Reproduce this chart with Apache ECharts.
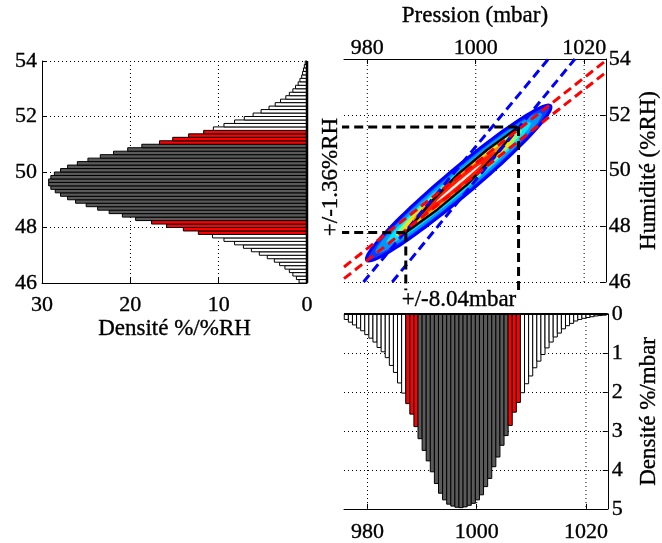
<!DOCTYPE html>
<html><head><meta charset="utf-8">
<script src="https://cdn.jsdelivr.net/npm/echarts@6/dist/echarts.min.js"></script>
<style>html,body{margin:0;padding:0;background:#fff}#c{width:662px;height:543px}</style>
</head><body><div id="c"></div>
<script>
// ---------- data ----------
const humTicks = [46, 48, 50, 52, 54];
const presTicks = [980, 1000, 1020];
const humDensityTicks = [0, 10, 20, 30];
const presDensityTicks = [0, 1, 2, 3, 4, 5];

const humBinStart = 46, humBinWidth = 0.125;
const humDensity = [0.9,1.2,1.6,2.0,2.5,3.1,3.7,4.5,5.4,6.3,7.2,8.2,9.4,10.7,12.3,14.0,15.9,17.6,19.4,20.9,22.4,23.7,25.0,26.2,27.1,27.9,28.5,29.0,29.25,29.25,29.0,28.6,27.9,27.1,26.0,24.8,23.4,21.9,20.3,18.7,16.7,15.2,13.4,11.7,10.6,9.4,8.2,7.1,6.1,5.2,4.3,3.6,3.0,2.4,2.0,1.6,1.3,1.0,0.8,0.6,0.5,0.4,0.3,0.2];
const humRedBands = [[47.75, 48.25], [51.0, 51.5]];
const humCoreBand = [48.25, 51.0];

const presBinStart = 975.75, presBinWidth = 0.75;
const presDensity = [0.14,0.21,0.28,0.36,0.43,0.53,0.62,0.72,0.86,0.97,1.12,1.32,1.50,1.77,2.03,2.30,2.57,2.89,3.20,3.50,3.77,4.05,4.35,4.60,4.77,4.88,4.93,4.96,4.97,4.95,4.91,4.86,4.77,4.64,4.43,4.22,3.92,3.67,3.37,3.12,2.86,2.52,2.27,2.02,1.79,1.59,1.38,1.21,1.04,0.87,0.72,0.59,0.49,0.38,0.30,0.24,0.18,0.14,0.11,0.09,0.07,0.05,0.04,0.03];
const presRedBands = [[987.0, 989.25], [1005.75, 1008.0]];
const presCoreBand = [989.25, 1005.75];

// joint density contours (centre, half-axes in data units, relative level sizes)
const contourCenter = [996.86, 49.55];
const contourMajorHalf = [16.95, 2.77];
const contourMinorHalf = [1.6, -0.38];
const contourMajorScale = [1.00, 0.90, 0.78, 0.68, 0.60, 0.50, 0.40, 0.24];
const contourMinorScale = [1.00, 0.82, 0.66, 0.55, 0.47, 0.40, 0.33, 0.07];

const lensPoints = [[987.1,47.78],[992.91,48.595],[998.37,49.485],[1003.31,50.485],[1007.9,51.56],[1002.09,50.745],[996.63,49.855],[991.69,48.855],[987.1,47.78]];
const blueLineA = [[979.3,46],[1013.4,54]];
const blueLineB = [[984.6,46],[1018.3,54]];
const redLineC = [[975.7,46.54],[1024,53.94]];
const redLineD = [[975.7,46.12],[1024,53.52]];
const boundUpper = [[975.0,51.56],[1007.9,51.56]];
const boundLower = [[975.0,47.78],[987.1,47.78]];
const boundLeft = [[987.1,47.78],[987.1,45.7]];
const boundRight = [[1007.9,51.56],[1007.9,45.7]];

// ---------- styles ----------
const FONT = 'Liberation Serif';
const contourFills = ['#0a3cff','#0096ff','#00e6ff','#7dff82','#ffe100','#ff8c00','#ff1e00','#ffffff'];
const barFill = {white:'#ffffff', core:'#5a5a5a', red:'#ff0000'};

function cls(lo, hi, reds, core){
  const c = (lo+hi)/2;
  if (c > core[0] && c < core[1]) return 'core';
  for (const r of reds) if (c > r[0] && c < r[1]) return 'red';
  return 'white';
}
const humBars = humDensity.map((v,j)=>{const lo=humBinStart+j*humBinWidth, hi=lo+humBinWidth; return [lo,hi,v,cls(lo,hi,humRedBands,humCoreBand)];});
const presBars = presDensity.map((v,k)=>{const lo=presBinStart+k*presBinWidth, hi=lo+presBinWidth; return [lo,hi,v,cls(lo,hi,presRedBands,presCoreBand)];});

const heavy = {textBorderColor:'#000', textBorderWidth:0.35};
const txt = Object.assign({color:'#000', fontFamily:FONT, fontSize:22, formatter:v=>String(v)}, heavy);
const nameTxt = Object.assign({color:'#000', fontFamily:FONT, fontSize:23}, heavy);
const dotted = {color:'#000', width:1, type:[1,3]};
const axLine = {show:true, onZero:false, lineStyle:{color:'#000', width:1}};
const tick = {show:true, inside:true, length:5, lineStyle:{color:'#000'}};

function gridLineSeries(xi, yi, pts){
  return {type:'line', xAxisIndex:xi, yAxisIndex:yi, data:pts, symbol:'none', silent:true, z:1,
          lineStyle:dotted, animation:false};
}
const series = [];
presTicks.forEach(p=>{
  series.push(gridLineSeries(1,1,[[p,46],[p,54]]));
  series.push(gridLineSeries(2,2,[[p,0],[p,5]]));
});

// left histogram (horizontal bars)
series.push({type:'custom', xAxisIndex:0, yAxisIndex:0, data:humBars, z:3,
  encode:{x:2, y:[0,1]},
  renderItem:function(params, api){
    const d = humBars[params.dataIndex];
    const p1 = api.coord([d[2], d[1]]), p2 = api.coord([0, d[0]]);
    return {type:'rect', shape:{x:Math.min(p1[0],p2[0]), y:Math.min(p1[1],p2[1]), width:Math.abs(p2[0]-p1[0]), height:Math.abs(p2[1]-p1[1])},
            style:{fill:barFill[d[3]], stroke:'#000', lineWidth:1}};
  }});
series.push({type:'line', xAxisIndex:0, yAxisIndex:0, data:[[0,46],[0,54]], symbol:'none', z:4, lineStyle:{color:'#000', width:2.5}});

// bottom histogram (vertical bars hanging from 0)
series.push({type:'custom', xAxisIndex:2, yAxisIndex:2, data:presBars, z:3,
  encode:{x:[0,1], y:2},
  renderItem:function(params, api){
    const d = presBars[params.dataIndex];
    const p1 = api.coord([d[0], 0]), p2 = api.coord([d[1], d[2]]);
    return {type:'rect', shape:{x:Math.min(p1[0],p2[0]), y:Math.min(p1[1],p2[1]), width:Math.abs(p2[0]-p1[0]), height:Math.abs(p2[1]-p1[1])},
            style:{fill:barFill[d[3]], stroke:'#000', lineWidth:1}};
  }});
series.push({type:'line', xAxisIndex:2, yAxisIndex:2, data:[[975.7,0],[1024,0]], symbol:'none', z:4, lineStyle:{color:'#000', width:2}});

// contours
series.push({type:'custom', xAxisIndex:1, yAxisIndex:1, z:3,
  data:contourMajorScale.map((s,k)=>[contourCenter[0], contourCenter[1], k]),
  renderItem:function(params, api){
    const k = params.dataIndex, a = contourMajorScale[k], b = contourMinorScale[k];
    const pts = [];
    for (let s=0; s<96; s++){
      const t = s/96*2*Math.PI, c = Math.cos(t), sn = Math.sin(t);
      pts.push(api.coord([contourCenter[0] + a*contourMajorHalf[0]*c + b*contourMinorHalf[0]*sn,
                          contourCenter[1] + a*contourMajorHalf[1]*c + b*contourMinorHalf[1]*sn]));
    }
    return {type:'polygon', shape:{points:pts},
            style:{fill:contourFills[k], stroke: k===0 ? '#0000ff' : contourFills[k], lineWidth: k===0 ? 3 : 0.5}};
  }});
series.push({type:'line', xAxisIndex:1, yAxisIndex:1, data:lensPoints, symbol:'none', z:5, lineStyle:{color:'#000', width:2.5}});
[[blueLineA,'#0000ff'],[blueLineB,'#0000ff'],[redLineC,'#ff0000'],[redLineD,'#ff0000']].forEach(([d,c])=>{
  series.push({type:'line', xAxisIndex:1, yAxisIndex:1, data:d, symbol:'none', z:6, clip:true,
               lineStyle:{color:c, width:3, type:[9,5]}});
});
[boundUpper, boundLower, boundLeft, boundRight].forEach(d=>{
  series.push({type:'line', xAxisIndex:1, yAxisIndex:1, data:d, symbol:'none', z:7, clip:false,
               lineStyle:{color:'#000', width:3, type:[9,5]}});
});

const option = {
  animation:false,
  backgroundColor:'#fff',
  grid:[{left:42, top:61, width:265, height:222},
        {left:344, top:59, width:265, height:223},
        {left:344, top:314, width:265, height:197}],
  xAxis:[
    {gridIndex:0, type:'value', min:0, max:30, interval:10, inverse:true, position:'bottom',
     axisLine:axLine, axisTick:tick, axisLabel:Object.assign({}, txt, {margin:11}),
     splitLine:{show:true, lineStyle:dotted},
     name:'Densité %/%RH', nameLocation:'middle', nameGap:31, nameTextStyle:nameTxt},
    {gridIndex:1, type:'value', min:975.7, max:1024, position:'top',
     axisLine:axLine, axisTick:Object.assign({customValues:presTicks}, tick),
     axisLabel:Object.assign({}, txt, {margin:0, customValues:presTicks}),
     splitLine:{show:false},
     name:'Pression (mbar)', nameLocation:'middle', nameGap:32, nameTextStyle:nameTxt},
    {gridIndex:2, type:'value', min:975.7, max:1024, position:'bottom',
     axisLine:axLine, axisTick:Object.assign({customValues:presTicks}, tick),
     axisLabel:Object.assign({}, txt, {margin:12, customValues:presTicks}),
     splitLine:{show:false}}
  ],
  yAxis:[
    {gridIndex:0, type:'value', min:46, max:54, interval:2, position:'left',
     axisLine:axLine, axisTick:tick, axisLabel:Object.assign({}, txt, {margin:5}),
     splitLine:{show:true, lineStyle:dotted}},
    {gridIndex:1, type:'value', min:46, max:54, interval:2, position:'right',
     axisLine:axLine, axisTick:tick, axisLabel:Object.assign({}, txt, {margin:3}),
     splitLine:{show:true, lineStyle:dotted},
     name:'Humidité (%RH)', nameLocation:'middle', nameRotate:90, nameGap:32, nameTextStyle:nameTxt},
    {gridIndex:2, type:'value', min:0, max:5, interval:1, inverse:true, position:'right',
     axisLine:axLine, axisTick:tick, axisLabel:Object.assign({}, txt, {margin:4}),
     splitLine:{show:true, lineStyle:dotted},
     name:'Densité %/mbar', nameLocation:'middle', nameRotate:90, nameGap:30, nameTextStyle:nameTxt}
  ],
  graphic:[
    {type:'text', x:459, y:300, z:10, style:{text:'+/-8.04mbar', font:'23px "Liberation Serif"', fill:'#000', stroke:'#000', lineWidth:0.35, align:'center', verticalAlign:'middle'}},
    {type:'text', x:331, y:177, z:10, rotation:Math.PI/2, style:{text:'+/-1.36%RH', font:'23px "Liberation Serif"', fill:'#000', stroke:'#000', lineWidth:0.35, align:'center', verticalAlign:'middle'}}
  ],
  series:series
};
const chart = echarts.init(document.getElementById('c'), null, {renderer:'canvas'});
chart.setOption(option);
</script></body></html>
